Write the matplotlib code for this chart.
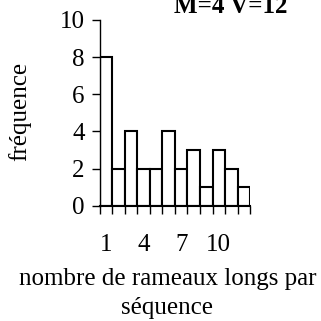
import numpy as np
import matplotlib.pyplot as plt

plt.rcParams['font.family'] = ['Liberation Serif', 'DejaVu Serif']

# nombre de rameaux longs par séquence
classes = np.arange(1, 13)
frequences = [8, 2, 4, 2, 2, 4, 2, 3, 1, 3, 2, 1]
xticks = [1, 4, 7, 10]
yticks = [0, 2, 4, 6, 8, 10]

fig = plt.figure(figsize=(3.21, 3.21), dpi=100)
ax = fig.add_axes([0.311, 0.359, 0.468, 0.579])

ax.bar(classes, frequences, width=1, color='white', edgecolor='black', linewidth=1.5)

ax.set_xlim(0.5, 12.5)
ax.set_ylim(0, 10)
ax.spines['top'].set_visible(False)
ax.spines['right'].set_visible(False)
ax.spines['left'].set_linewidth(1)
ax.spines['bottom'].set_linewidth(1.5)

ax.set_yticks(yticks)
ax.set_xticks(xticks)
ax.set_xticks(np.arange(0.5, 13, 1), minor=True)
ax.tick_params(axis='x', which='major', length=0, pad=20, labelsize=18)
ax.tick_params(axis='x', which='minor', length=6, width=1, direction='out')
ax.tick_params(axis='y', length=6, width=1, direction='out', labelsize=18, pad=5)

ax.set_xlabel('nombre de rameaux longs par\nséquence', fontsize=18, linespacing=1.4)
ax.xaxis.set_label_coords(0.45, -0.335)
ax.set_ylabel('fréquence', fontsize=18)
ax.yaxis.set_label_coords(-0.455, 0.51)

fig.text(0.72, 1 - 13 / 321, 'M=4 V=12', ha='center', va='baseline',
         fontsize=18, fontweight='bold')

fig.savefig('out.png', dpi=100)
